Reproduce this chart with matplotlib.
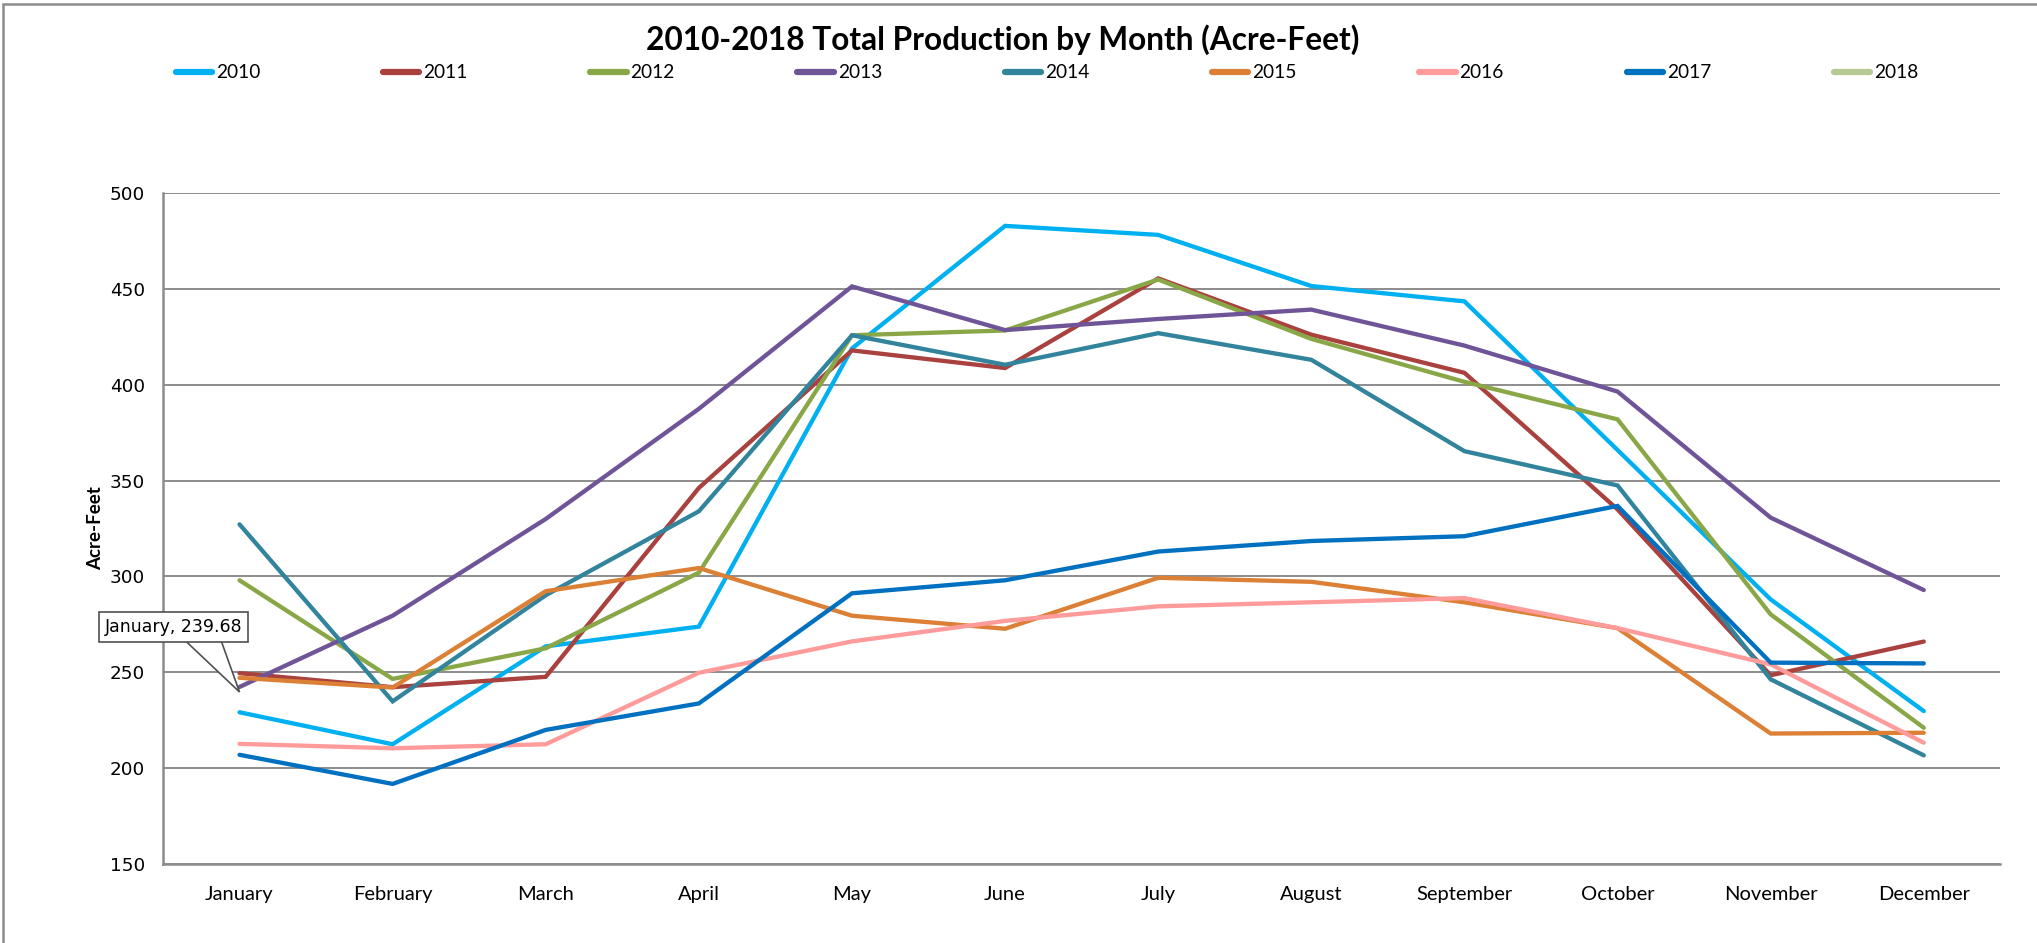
import matplotlib
matplotlib.use("Agg")
import matplotlib.pyplot as plt
from matplotlib.patches import Rectangle, Polygon
from matplotlib.lines import Line2D
import matplotlib.transforms as mtransforms

# ======================
# Data (acre-feet)
# ======================
months = ["January", "February", "March", "April", "May", "June",
          "July", "August", "September", "October", "November", "December"]

y2010 = [229.1, 212.4, 263.5, 273.8, 419.0, 483.0, 478.3, 451.6, 443.6, 366.0, 288.0, 229.7]
y2011 = [249.5, 242.2, 247.6, 346.2, 418.0, 408.8, 455.6, 426.2, 406.3, 335.0, 248.4, 266.0]
y2012 = [298.0, 246.5, 262.5, 302.0, 425.9, 428.4, 455.0, 424.0, 401.6, 382.0, 280.2, 221.0]
y2013 = [242.3, 279.5, 330.0, 387.5, 451.4, 428.6, 434.4, 439.3, 420.5, 396.5, 330.7, 292.9]
y2014 = [327.2, 234.8, 290.2, 334.0, 425.9, 410.5, 427.0, 413.1, 365.4, 347.5, 246.3, 206.6]
y2015 = [247.1, 242.0, 292.3, 304.4, 279.5, 272.7, 299.3, 297.2, 286.5, 273.0, 218.0, 218.4]
y2016 = [212.6, 210.3, 212.4, 249.7, 266.1, 276.8, 284.4, 286.5, 288.7, 273.0, 254.1, 213.2]
y2017 = [206.9, 191.7, 219.9, 233.7, 291.2, 298.0, 313.0, 318.5, 321.0, 336.8, 255.0, 254.6]
y2018 = [239.68]  # only January so far

years = ["2010", "2011", "2012", "2013", "2014", "2015", "2016", "2017", "2018"]
series = [y2010, y2011, y2012, y2013, y2014, y2015, y2016, y2017, y2018]
colors = ["#00B0F0", "#A9413F", "#8AA748", "#6F5597", "#31849B",
          "#DC8036", "#FF9B9B", "#0070C0", "#B5CA92"]

yticks = [150, 200, 250, 300, 350, 400, 450, 500]

# ======================
# Figure
# ======================
fig = plt.figure(figsize=(20.37, 9.43), dpi=100)
ax = fig.add_axes([0.080, 0.084, 0.902, 0.711])

grid_color = "#8C8C8C"
for i, (name, vals) in enumerate(zip(years, series)):
    ax.plot(range(len(vals)), vals, color=colors[i], lw=3.1,
            solid_capstyle="round", solid_joinstyle="miter", zorder=3)

ax.set_xlim(-0.5, 11.5)
ax.set_ylim(150, 500)
ax.set_yticks(yticks)
ax.set_xticks(range(len(months)))
ax.set_xticklabels(months, fontsize=14.5, family="Lato")
for lab in ax.get_yticklabels():
    lab.set_fontsize(13.2)
    lab.set_family("DejaVu Sans")
ax.tick_params(length=0)
ax.tick_params(axis="y", pad=13)
ax.tick_params(axis="x", pad=16)

ax.yaxis.grid(True, color=grid_color, lw=1.4)
ax.set_axisbelow(True)
for side in ["top", "right"]:
    ax.spines[side].set_visible(False)
for side in ["left", "bottom"]:
    ax.spines[side].set_color(grid_color)
    ax.spines[side].set_linewidth(1.8)

ax.set_ylabel("Acre-Feet", fontsize=13.5, fontweight="bold", family="Lato")
ax.yaxis.set_label_coords(-0.032, 0.5)

fig.text(0.4924, 0.9576, "2010-2018 Total Production by Month (Acre-Feet)",
         ha="center", va="center", fontsize=22.8, fontweight="bold", family="Lato")

# legend
handles = [Line2D([0], [0], color=c, lw=4.5, solid_capstyle="round") for c in colors]
fig.legend(handles, years, loc="center", bbox_to_anchor=(0.514, 0.9226), ncol=9,
           frameon=False, prop={"family": "Lato", "size": 13.8},
           handlelength=1.9, handletextpad=0.2, columnspacing=6.4)

# data label callout for the single 2018 point
px = fig.dpi_scale_trans + mtransforms.ScaledTranslation(0, y2018[0], ax.transData)
wedge = Polygon([(-0.56, 0.53), (0.0, 0.0), (-0.19, 0.53)], closed=False,
                facecolor="white", edgecolor="#505050", lw=1.2, zorder=6, transform=px)
ax.add_patch(wedge)
ax.annotate(f"{months[0]}, {y2018[0]:.2f}", xy=(0, y2018[0]), xytext=(-66, 65),
            textcoords="offset pixels", ha="center", va="center",
            fontsize=12.5, family="DejaVu Sans", zorder=7,
            bbox=dict(boxstyle="square,pad=0.35", facecolor="white",
                      edgecolor="#505050", lw=1.2))

# chart border
fig.patches.append(Rectangle((3 / 2037, -0.05), 1.1, 1.05 - 4 / 943,
                             transform=fig.transFigure, fill=False,
                             edgecolor="#8C8C8C", lw=1.8))

fig.savefig("out.png", dpi=100)
